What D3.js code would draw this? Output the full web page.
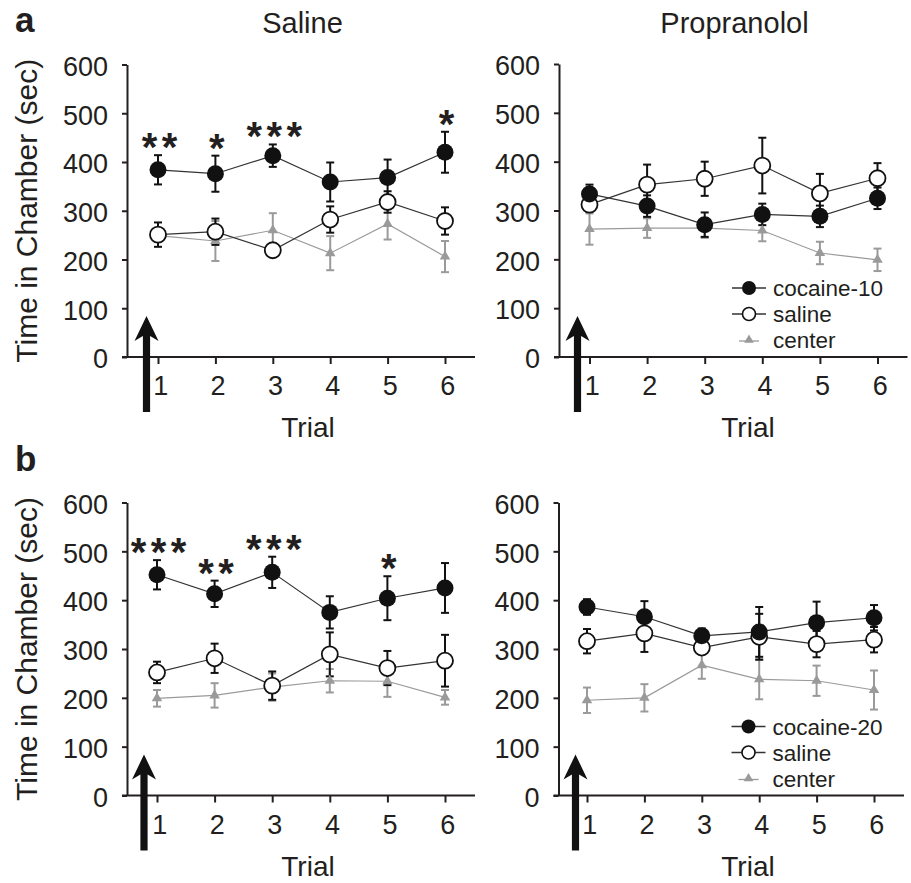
<!DOCTYPE html>
<html>
<head>
<meta charset="utf-8">
<script src="https://cdn.jsdelivr.net/npm/d3@7"></script>
<style>
  html, body { margin: 0; padding: 0; background: #fff; }
  svg { display: block; }
  text { font-family: "Liberation Sans", Arial, Helvetica, sans-serif; fill: #231f20; }
</style>
</head>
<body>
<svg id="chart" width="911" height="883"></svg>
<script>
// ---------------- data ----------------
const trials = [1, 2, 3, 4, 5, 6];
const yTicks = [0, 100, 200, 300, 400, 500, 600];
const panelTitles = ["Saline", "Propranolol"];
const panelLetters = ["a", "b"];
const seriesNamesA = ["cocaine-10", "saline", "center"];
const seriesNamesB = ["cocaine-20", "saline", "center"];

// Panel a, Saline pre-treatment
const aSalCocaine = [384, 376, 413, 359, 368, 420];
const aSalCocaineErr = [30, 37, 23, 40, 37, 42];
const aSalSaline = [251, 257, 219, 282, 318, 279];
const aSalSalineErr = [25, 27, 8, 27, 22, 28];
const aSalCenter = [249, 238, 260, 213, 273, 206];
const aSalCenterErr = [10, 41, 35, 35, 32, 32];
const aSalSig = ["**", "*", "***", "", "", "*"];

// Panel a, Propranolol pre-treatment
const aProCocaine = [334, 309, 271, 292, 288, 325];
const aProCocaineErr = [19, 22, 25, 22, 22, 22];
const aProSaline = [312, 353, 365, 392, 335, 366];
const aProSalineErr = [6, 41, 35, 57, 40, 31];
const aProCenter = [262, 264, 264, 259, 213, 199];
const aProCenterErr = [32, 20, 20, 22, 23, 23];
const aProSig = ["", "", "", "", "", ""];

// Panel b, Saline pre-treatment
const bSalCocaine = [452, 413, 457, 375, 404, 425];
const bSalCocaineErr = [30, 27, 32, 33, 45, 51];
const bSalSaline = [252, 281, 225, 289, 261, 276];
const bSalSalineErr = [22, 30, 29, 45, 35, 53];
const bSalCenter = [199, 205, 222, 235, 234, 201];
const bSalCenterErr = [17, 25, 28, 24, 32, 15];
const bSalSig = ["***", "**", "***", "", "*", ""];

// Panel b, Propranolol pre-treatment
const bProCocaine = [386, 366, 327, 335, 354, 364];
const bProCocaineErr = [16, 32, 15, 51, 43, 26];
const bProSaline = [316, 332, 303, 325, 310, 319];
const bProSalineErr = [25, 38, 12, 47, 27, 26];
const bProCenter = [195, 200, 267, 238, 235, 216];
const bProCenterErr = [26, 28, 28, 41, 31, 40];
const bProSig = ["", "", "", "", "", ""];

// ---------------- layout ----------------
const svg = d3.select("#chart");
const INK = "#231f20";
const GRAY = "#9a9a9a";

const panels = [
  { axisX: 127,   t1: 158,   t6: 445,   yTop: 64.5,  yBot: 357,   title: panelTitles[0], letter: panelLetters[0], legend: null, arrowDx: 19.5,
    coc: aSalCocaine, cocE: aSalCocaineErr, sal: aSalSaline, salE: aSalSalineErr, cen: aSalCenter, cenE: aSalCenterErr, sig: aSalSig, trialX: 308 },
  { axisX: 559,   t1: 589.5, t6: 877.5, yTop: 64,    yBot: 357,   title: panelTitles[1], letter: null, legend: seriesNamesA, arrowDx: 18.5,
    coc: aProCocaine, cocE: aProCocaineErr, sal: aProSaline, salE: aProSalineErr, cen: aProCenter, cenE: aProCenterErr, sig: aProSig, trialX: 748 },
  { axisX: 127,   t1: 157,   t6: 445,   yTop: 502.5, yBot: 795.5, title: null, letter: panelLetters[1], legend: null, arrowDx: 17,
    coc: bSalCocaine, cocE: bSalCocaineErr, sal: bSalSaline, salE: bSalSalineErr, cen: bSalCenter, cenE: bSalCenterErr, sig: bSalSig, trialX: 308 },
  { axisX: 558.5, t1: 587,   t6: 874,   yTop: 502.5, yBot: 795.5, title: null, letter: null, legend: seriesNamesB, arrowDx: 17,
    coc: bProCocaine, cocE: bProCocaineErr, sal: bProSaline, salE: bProSalineErr, cen: bProCenter, cenE: bProCenterErr, sig: bProSig, trialX: 748 }
];

const triangle = d3.symbol().type(d3.symbolTriangle).size(48);
const legendTriangle = d3.symbol().type(d3.symbolTriangle).size(40);

panels.forEach((p, pi) => {
  const g = svg.append("g");
  const x = d3.scaleLinear().domain([1, 6]).range([p.t1, p.t6]);
  const y = d3.scaleLinear().domain([0, 600]).range([p.yBot, p.yTop]);

  // title
  if (p.title) {
    g.append("text").attr("x", (p.t1 + p.t6) / 2 + 1).attr("y", 33)
      .attr("text-anchor", "middle").attr("font-size", 29).text(p.title);
  }
  // panel letter
  if (p.letter) {
    g.append("text").attr("x", 15).attr("y", p.yBot - 325)
      .attr("font-size", 35).attr("font-weight", "bold").text(p.letter);
  }

  // y axis
  const yAxis = d3.axisLeft(y).tickValues(yTicks).tickSize(5).tickSizeOuter(0).tickPadding(14);
  const ya = g.append("g").attr("transform", `translate(${p.axisX},0)`).call(yAxis);
  ya.select(".domain").attr("stroke", INK).attr("stroke-width", 2);
  ya.selectAll(".tick line").attr("stroke", INK).attr("stroke-width", 2);
  ya.selectAll(".tick text").attr("font-size", 27).attr("fill", INK)
    .attr("font-family", "Liberation Sans, Arial, sans-serif").attr("dy", "0.40em");

  // x axis
  const xAxis = d3.axisBottom(x).tickValues(trials).tickSize(7).tickSizeOuter(0).tickPadding(12).tickFormat(d3.format("d"));
  const xa = g.append("g").attr("transform", `translate(0,${p.yBot})`).call(xAxis);
  xa.select(".domain").remove();
  xa.selectAll(".tick line").attr("stroke", INK).attr("stroke-width", 2);
  xa.selectAll(".tick text").attr("font-size", 27).attr("fill", INK)
    .attr("font-family", "Liberation Sans, Arial, sans-serif").attr("dx", "0.08em");
  g.append("line").attr("x1", p.axisX - 5).attr("x2", x(6) + 30)
    .attr("y1", p.yBot).attr("y2", p.yBot).attr("stroke", INK).attr("stroke-width", 2);

  // x label
  g.append("text").attr("x", p.trialX).attr("y", p.yBot + 80).attr("text-anchor", "middle")
    .attr("font-size", 28).text("Trial");

  // y label (left panels only)
  if (pi % 2 === 0) {
    const cy = (p.yTop + p.yBot) / 2;
    g.append("text").attr("transform", `translate(37,${cy}) rotate(-90)`)
      .attr("text-anchor", "middle").attr("font-size", 30).text("Time in Chamber (sec)");
  }

  // arrow
  const ax = p.axisX + p.arrowDx, tip = p.yBot - 41, bottom = p.yBot + 55;
  g.append("path")
    .attr("d", `M${ax},${tip} L${ax + 12},${tip + 25} L${ax + 3.6},${tip + 20} L${ax + 3.6},${bottom} L${ax - 3.6},${bottom} L${ax - 3.6},${tip + 20} L${ax - 12},${tip + 25} Z`)
    .attr("fill", "#111");

  // series
  const series = [
    { vals: p.cen, err: p.cenE, kind: "center", lineColor: GRAY, errColor: GRAY },
    { vals: p.sal, err: p.salE, kind: "saline", lineColor: "#333", errColor: "#111" },
    { vals: p.coc, err: p.cocE, kind: "cocaine", lineColor: "#333", errColor: "#111" }
  ];
  const line = d3.line().x((d, i) => x(trials[i])).y(d => y(d));

  series.forEach(s => {
    g.append("path").datum(s.vals).attr("d", line).attr("fill", "none")
      .attr("stroke", s.lineColor).attr("stroke-width", 1.2);
  });
  series.forEach(s => {
    const eg = g.append("g").attr("stroke", s.errColor).attr("stroke-width", 2).attr("fill", "none");
    s.vals.forEach((v, i) => {
      const cx = x(trials[i]);
      const top = y(v + s.err[i]), bot = y(v - s.err[i]);
      eg.append("line").attr("x1", cx).attr("x2", cx).attr("y1", top).attr("y2", bot);
      eg.append("line").attr("x1", cx - 4).attr("x2", cx + 4).attr("y1", top).attr("y2", top);
      eg.append("line").attr("x1", cx - 4).attr("x2", cx + 4).attr("y1", bot).attr("y2", bot);
    });
  });
  // markers
  series.forEach(s => {
    s.vals.forEach((v, i) => {
      const cx = x(trials[i]), cy = y(v);
      if (s.kind === "cocaine") {
        g.append("circle").attr("cx", cx).attr("cy", cy).attr("r", 8.5).attr("fill", "#111");
      } else if (s.kind === "saline") {
        g.append("circle").attr("cx", cx).attr("cy", cy).attr("r", 8).attr("fill", "#fff")
          .attr("stroke", "#111").attr("stroke-width", 1.8);
      } else {
        g.append("path").attr("d", triangle).attr("transform", `translate(${cx},${cy})`).attr("fill", GRAY);
      }
    });
  });

  // significance stars above cocaine error bar
  p.sig.forEach((lab, i) => {
    if (!lab) return;
    const n = lab.length;
    const cx = x(trials[i]) + 1.5;
    const cy = y(p.coc[i] + p.cocE[i]) - 16;
    for (let k = 0; k < n; k++) {
      g.append("text").attr("x", cx + (k - (n - 1) / 2) * 20).attr("y", cy + 22)
        .attr("text-anchor", "middle").attr("font-size", 40).attr("font-weight", "bold").text("*");
    }
  });

  // legend
  if (p.legend) {
    const lx = p.axisX + 190;
    const baselines = [p.yBot - 61, p.yBot - 35, p.yBot - 9];
    p.legend.forEach((name, k) => {
      const by = baselines[k];
      const my = by - 8;
      if (k < 2) {
        g.append("line").attr("x1", lx - 17).attr("x2", lx + 17).attr("y1", my).attr("y2", my)
          .attr("stroke", "#333").attr("stroke-width", 1.3);
      } else {
        g.append("line").attr("x1", lx - 10).attr("x2", lx + 10).attr("y1", my + 1).attr("y2", my + 1)
          .attr("stroke", GRAY).attr("stroke-width", 1.3);
      }
      if (k === 0) {
        g.append("circle").attr("cx", lx).attr("cy", my).attr("r", 7).attr("fill", "#111");
      } else if (k === 1) {
        g.append("circle").attr("cx", lx).attr("cy", my).attr("r", 6.5).attr("fill", "#fff")
          .attr("stroke", "#111").attr("stroke-width", 1.6);
      } else {
        g.append("path").attr("d", legendTriangle).attr("transform", `translate(${lx},${my})`).attr("fill", GRAY);
      }
      g.append("text").attr("x", lx + 24).attr("y", by).attr("font-size", 22.5).text(name);
    });
  }
});
</script>
</body>
</html>
